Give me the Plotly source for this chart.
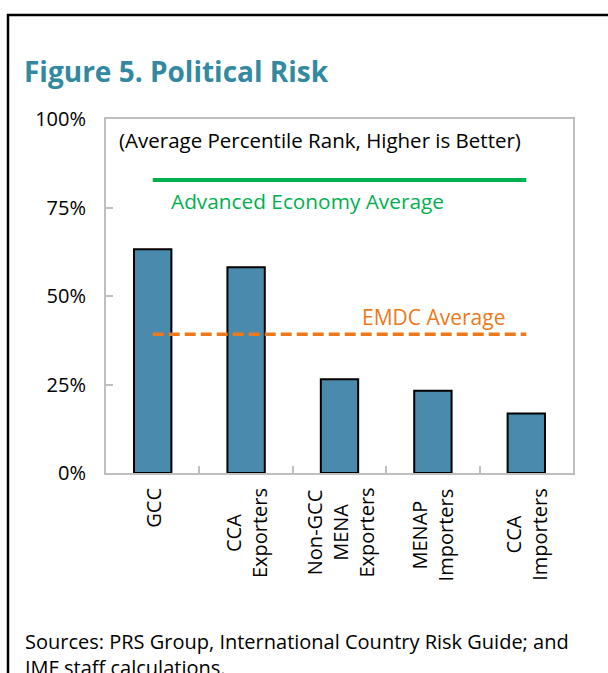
import plotly.graph_objects as go

# ---- data ----
categories = ["GCC", "CCA Exporters", "Non-GCC MENA Exporters", "MENAP Importers", "CCA Importers"]
tick_labels = ["GCC", "CCA<br>Exporters", "Non-GCC<br>MENA<br>Exporters", "MENAP<br>Importers", "CCA<br>Importers"]
political_risk = [0.632, 0.581, 0.265, 0.232, 0.168]
advanced_economy_avg = 0.828
emdc_avg = 0.392
y_ticks = [0, 0.25, 0.5, 0.75, 1.0]
y_tick_labels = ["0%", "25%", "50%", "75%", "100%"]

# ---- layout geometry (pixels) ----
W, H = 608, 673
L, R, T, B = 106, 573, 119, 473
FONT = "Open Sans"

def px_x(px):
    return (px - L) / (R - L)

def px_y(py):
    return (B - py) / (B - T)

BAR_COLOR = "#4A8BAD"
GREEN = "#00B050"
ORANGE = "#EC7A1C"
TEAL = "#3389A0"
AXIS_GREY = "#BFBFBF"

fig = go.Figure()
fig.add_trace(go.Bar(
    x=categories, y=political_risk,
    marker=dict(color=BAR_COLOR, line=dict(color="black", width=2)),
    width=0.4, showlegend=False, hoverinfo="skip",
))
fig.add_trace(go.Scatter(
    x=categories, y=[advanced_economy_avg] * len(categories),
    mode="lines", line=dict(color=GREEN, width=4), showlegend=False,
))
fig.add_trace(go.Scatter(
    x=categories, y=[emdc_avg] * len(categories),
    mode="lines", line=dict(color=ORANGE, width=3.5, dash="11px,5px"), showlegend=False,
))

annotations = []
# category labels (rotated, centered lines)
for cat, lab in zip(categories, tick_labels):
    annotations.append(dict(
        x=cat, xref="x", y=0, yref="paper", yshift=-13,
        text=lab, textangle=-90, showarrow=False, align="center",
        xanchor="center", yanchor="top",
        font=dict(family=FONT, size=20, color="black"),
    ))

annotations += [
    dict(x=px_x(22), y=px_y(71), xref="paper", yref="paper",
         text="<b>Figure 5. Political Risk</b>", showarrow=False,
         xanchor="left", yanchor="middle",
         font=dict(family=FONT, size=28, color=TEAL)),
    dict(x=px_x(117), y=px_y(140), xref="paper", yref="paper",
         text="(Average Percentile Rank, Higher is Better)", showarrow=False,
         xanchor="left", yanchor="middle",
         font=dict(family=FONT, size=20.5, color="black")),
    dict(x=px_x(169), y=px_y(201), xref="paper", yref="paper",
         text="Advanced Economy Average", showarrow=False,
         xanchor="left", yanchor="middle",
         font=dict(family=FONT, size=20.8, color=GREEN)),
    dict(x=px_x(360), y=px_y(317), xref="paper", yref="paper",
         text="EMDC Average", showarrow=False,
         xanchor="left", yanchor="middle",
         font=dict(family=FONT, size=21, color=ORANGE)),
    dict(x=px_x(23), y=px_y(626), xref="paper", yref="paper",
         text="Sources: PRS Group, International Country Risk Guide; and<br>IMF staff calculations.",
         showarrow=False, align="left",
         xanchor="left", yanchor="top",
         font=dict(family=FONT, size=20, color="black")),
]

shapes = [
    dict(type="rect", xref="paper", yref="paper",
         x0=px_x(8), x1=px_x(640), y0=px_y(720), y1=px_y(15),
         line=dict(color="black", width=2.5), fillcolor="rgba(0,0,0,0)", layer="below"),
]

fig.update_layout(
    width=W, height=H,
    margin=dict(l=L, r=W - R, t=T, b=H - B, pad=0),
    paper_bgcolor="white", plot_bgcolor="white",
    font=dict(family=FONT, size=20, color="black"),
    bargap=0.6,
    annotations=annotations,
    shapes=shapes,
    showlegend=False,
)
fig.update_xaxes(
    type="category", showline=True, linecolor=AXIS_GREY, linewidth=2, mirror=True,
    ticks="inside", tickson="boundaries", ticklen=7, tickwidth=2, tickcolor=AXIS_GREY,
    showticklabels=False, showgrid=False, zeroline=False,
)
fig.update_yaxes(
    range=[0, 1], tickvals=y_ticks, ticktext=y_tick_labels,
    showline=True, linecolor=AXIS_GREY, linewidth=2, mirror=True,
    ticks="inside", ticklen=7, tickwidth=2, tickcolor=AXIS_GREY,
    ticklabelstandoff=14, showgrid=False, zeroline=False,
    tickfont=dict(family=FONT, size=20, color="black"),
)

fig.write_html("out.html", config={"displayModeBar": False},
               post_script="document.body.style.margin='0';")
